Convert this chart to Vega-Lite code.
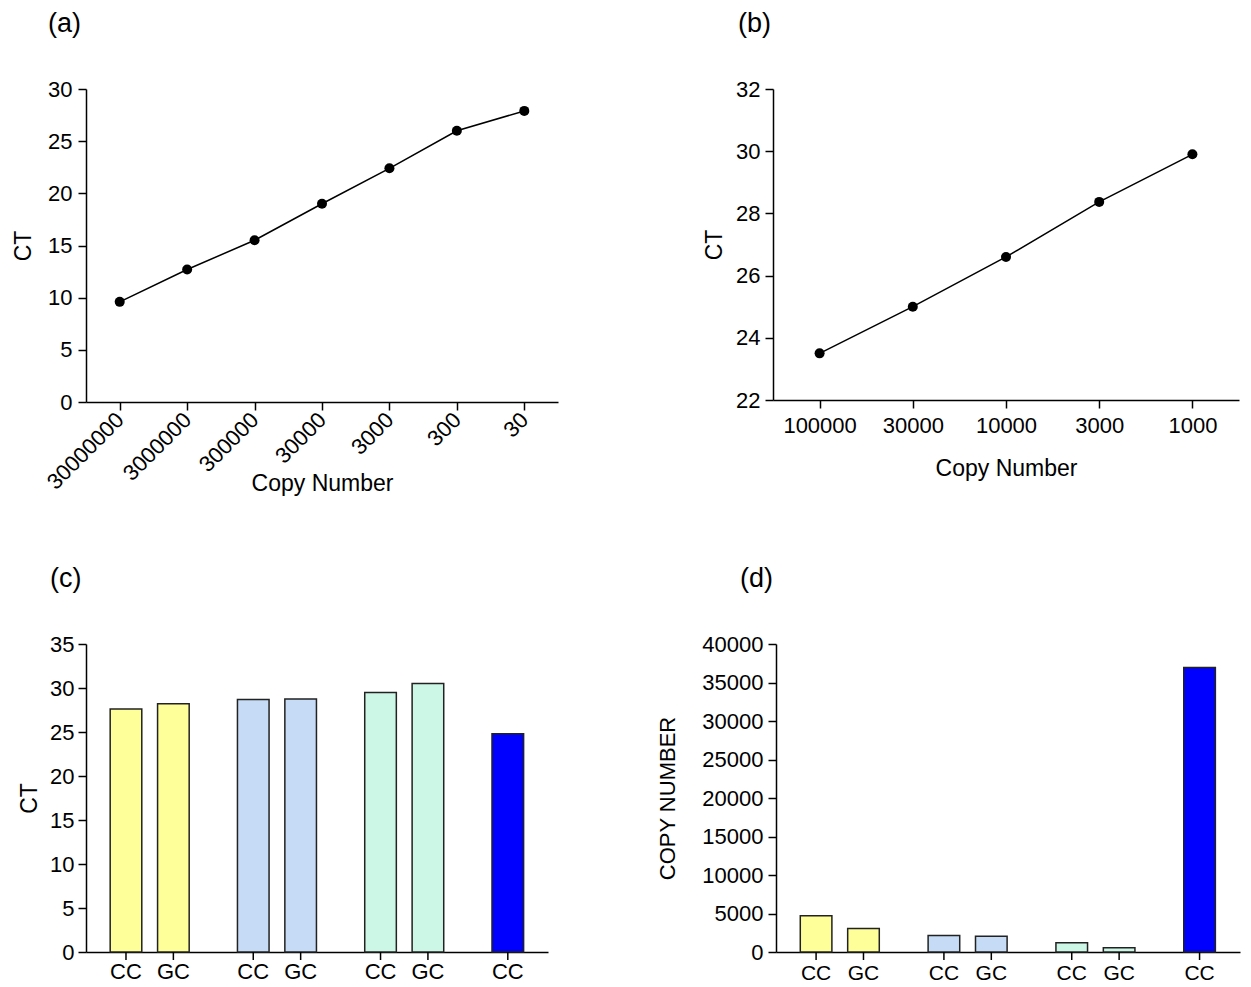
{
  "$schema": "https://vega.github.io/schema/vega-lite/v6.json",
  "background": "white",
  "padding": {"left": 12, "top": 10, "right": 5, "bottom": 5},
  "config": {
    "font": "Liberation Sans",
    "view": {"stroke": null},
    "axis": {
      "grid": false,
      "domainColor": "#000",
      "domainWidth": 1.5,
      "tickColor": "#000",
      "tickWidth": 1.5,
      "tickSize": 8,
      "labelColor": "#000",
      "labelFontSize": 22,
      "labelFont": "Liberation Sans",
      "labelPadding": 6,
      "labelOverlap": false,
      "titleFont": "Liberation Sans",
      "titleFontSize": 23,
      "titleFontWeight": "normal",
      "titleColor": "#000"
    },
    "text": {"font": "Liberation Sans"},
    "title": {"fontSize": 27, "fontWeight": "normal", "anchor": "start", "frame": "group", "font": "Liberation Sans", "color": "#000"}
  },
  "spacing": 69,
  "vconcat": [
    {
      "spacing": 145,
      "hconcat": [
        {
          "width": 472,
          "height": 313,
          "title": {"text": "(a)", "dx": -38, "offset": 40},
          "data": {"values": [
            {"copies": "30000000", "ct": 9.6},
            {"copies": "3000000", "ct": 12.7},
            {"copies": "300000", "ct": 15.5},
            {"copies": "30000", "ct": 19.0},
            {"copies": "3000", "ct": 22.4},
            {"copies": "300", "ct": 26.0},
            {"copies": "30", "ct": 27.9}
          ]},
          "mark": {"type": "line", "color": "#000", "strokeWidth": 1.5, "point": {"filled": true, "color": "#000", "size": 100, "opacity": 1}},
          "encoding": {
            "x": {"field": "copies", "type": "ordinal", "sort": null, "scale": {"type": "point", "padding": 0.5},
                  "axis": {"title": "Copy Number", "labelAngle": -45, "labelBaseline": "middle", "labelAlign": "right", "labelPadding": 6, "titlePadding": -20}},
            "y": {"field": "ct", "type": "quantitative", "scale": {"domain": [0, 30], "nice": false},
                  "axis": {"values": [0, 5, 10, 15, 20, 25, 30], "title": "CT", "titlePadding": 12}}
          }
        },
        {
          "width": 466,
          "height": 311,
          "title": {"text": "(b)", "dx": -35, "offset": 40},
          "data": {"values": [
            {"copies": "100000", "ct": 23.5},
            {"copies": "30000", "ct": 25.0},
            {"copies": "10000", "ct": 26.6},
            {"copies": "3000", "ct": 28.37},
            {"copies": "1000", "ct": 29.9}
          ]},
          "mark": {"type": "line", "color": "#000", "strokeWidth": 1.5, "point": {"filled": true, "color": "#000", "size": 100, "opacity": 1}},
          "encoding": {
            "x": {"field": "copies", "type": "ordinal", "sort": null, "scale": {"type": "point", "padding": 0.5},
                  "axis": {"title": "Copy Number", "labelAngle": 0, "labelPadding": 7, "titlePadding": 21}},
            "y": {"field": "ct", "type": "quantitative", "scale": {"domain": [22, 32], "nice": false},
                  "axis": {"values": [22, 24, 26, 28, 30, 32], "title": "CT", "labelPadding": 5, "titlePadding": 9}}
          }
        }
      ]
    },
    {
      "spacing": 108,
      "hconcat": [
        {
          "width": 462,
          "height": 308,
          "title": {"text": "(c)", "dx": -36, "offset": 40},
          "data": {"values": [
            {"sample": "S1", "genotype": "CC", "ct": 27.6},
            {"sample": "S1", "genotype": "GC", "ct": 28.2},
            {"sample": "S2", "genotype": "CC", "ct": 28.7},
            {"sample": "S2", "genotype": "GC", "ct": 28.75},
            {"sample": "S3", "genotype": "CC", "ct": 29.5},
            {"sample": "S3", "genotype": "GC", "ct": 30.5},
            {"sample": "S4", "genotype": "CC", "ct": 24.8}
          ]},
          "encoding": {
            "x": {"field": "sample", "type": "nominal", "sort": null,
                  "scale": {"paddingInner": 0.75, "paddingOuter": 0.19},
                  "axis": {"title": null, "labels": false, "ticks": false}},
            "xOffset": {"field": "genotype", "type": "nominal",
                        "scale": {"domain": ["CC", "GC"], "range": [0, 79], "paddingInner": 0.333, "paddingOuter": 0}}
          },
          "layer": [
            {
              "mark": {"type": "bar", "stroke": "#222", "strokeWidth": 1.5},
              "encoding": {
                "y": {"field": "ct", "type": "quantitative", "scale": {"domain": [0, 35], "nice": false},
                      "axis": {"values": [0, 5, 10, 15, 20, 25, 30, 35], "title": "CT", "labelPadding": 4, "titlePadding": 8}},
                "color": {"field": "sample", "type": "nominal", "legend": null,
                          "scale": {"domain": ["S1", "S2", "S3", "S4"], "range": ["#FFFF99", "#C6DBF5", "#CCF7E6", "#0000FF"]}}
              }
            },
            {
              "mark": {"type": "rule", "color": "#000", "strokeWidth": 1.5},
              "encoding": {
                "y": {"datum": 0, "type": "quantitative", "scale": {"domain": [0, 35], "nice": false},
                      "axis": {"values": [0, 5, 10, 15, 20, 25, 30, 35], "title": "CT", "labelPadding": 4, "titlePadding": 8}},
                "y2": {"datum": -0.91}
              }
            },
            {
              "mark": {"type": "text", "baseline": "alphabetic", "dy": 27, "fontSize": 22, "color": "#000"},
              "encoding": {
                "y": {"datum": 0, "type": "quantitative", "scale": {"domain": [0, 35], "nice": false},
                      "axis": {"values": [0, 5, 10, 15, 20, 25, 30, 35], "title": "CT", "labelPadding": 4, "titlePadding": 8}},
                "text": {"field": "genotype"}
              }
            }
          ]
        },
        {
          "width": 464,
          "height": 308,
          "title": {"text": "(d)", "dx": -36, "offset": 40},
          "data": {"values": [
            {"sample": "S1", "genotype": "CC", "copies": 4700},
            {"sample": "S1", "genotype": "GC", "copies": 3050},
            {"sample": "S2", "genotype": "CC", "copies": 2150},
            {"sample": "S2", "genotype": "GC", "copies": 2050},
            {"sample": "S3", "genotype": "CC", "copies": 1200},
            {"sample": "S3", "genotype": "GC", "copies": 560},
            {"sample": "S4", "genotype": "CC", "copies": 36950}
          ]},
          "encoding": {
            "x": {"field": "sample", "type": "nominal", "sort": null,
                  "scale": {"paddingInner": 0.75, "paddingOuter": 0.19},
                  "axis": {"title": null, "labels": false, "ticks": false}},
            "xOffset": {"field": "genotype", "type": "nominal",
                        "scale": {"domain": ["CC", "GC"], "range": [0, 79], "paddingInner": 0.333, "paddingOuter": 0}}
          },
          "layer": [
            {
              "mark": {"type": "bar", "stroke": "#222", "strokeWidth": 1.5},
              "encoding": {
                "y": {"field": "copies", "type": "quantitative", "scale": {"domain": [0, 40000], "nice": false},
                      "axis": {"values": [0, 5000, 10000, 15000, 20000, 25000, 30000, 35000, 40000], "format": "d", "title": "COPY NUMBER", "titleFontSize": 22, "labelPadding": 5, "titlePadding": 22}},
                "color": {"field": "sample", "type": "nominal", "legend": null,
                          "scale": {"domain": ["S1", "S2", "S3", "S4"], "range": ["#FFFF99", "#C6DBF5", "#CCF7E6", "#0000FF"]}}
              }
            },
            {
              "mark": {"type": "rule", "color": "#000", "strokeWidth": 1.5},
              "encoding": {
                "y": {"datum": 0, "type": "quantitative", "scale": {"domain": [0, 40000], "nice": false},
                      "axis": {"values": [0, 5000, 10000, 15000, 20000, 25000, 30000, 35000, 40000], "format": "d", "title": "COPY NUMBER", "titleFontSize": 22, "labelPadding": 5, "titlePadding": 22}},
                "y2": {"datum": -1040}
              }
            },
            {
              "mark": {"type": "text", "baseline": "alphabetic", "dy": 28, "fontSize": 21, "color": "#000"},
              "encoding": {
                "y": {"datum": 0, "type": "quantitative", "scale": {"domain": [0, 40000], "nice": false},
                      "axis": {"values": [0, 5000, 10000, 15000, 20000, 25000, 30000, 35000, 40000], "format": "d", "title": "COPY NUMBER", "titleFontSize": 22, "labelPadding": 5, "titlePadding": 22}},
                "text": {"field": "genotype"}
              }
            }
          ]
        }
      ]
    }
  ]
}
